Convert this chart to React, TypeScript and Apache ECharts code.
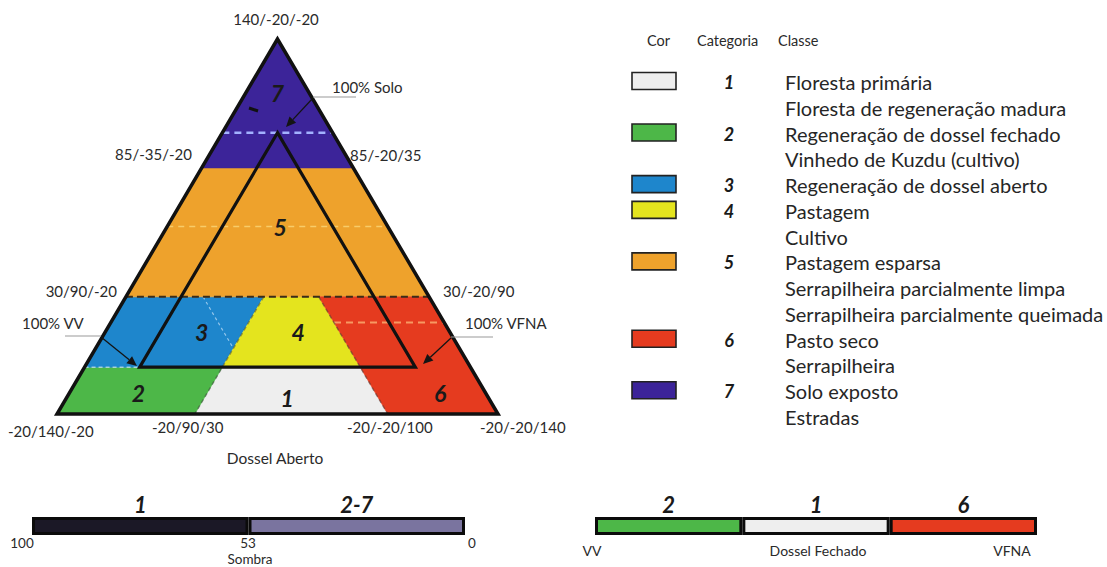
import React, { useEffect, useRef } from "react";
import * as echarts from "echarts";

const FONT = "Lato, 'Open Sans', sans-serif";

// Ternary coordinates are [Solo, VV, VFNA]; each runs from -20 to 140
const ternaryMin = -20;
const ternaryMax = 140;

const categories = ["1", "2", "3", "4", "5", "6", "7"];
const categoryColors = ["#eeeeee", "#4db748", "#1e86cc", "#e4e41e", "#eea22c", "#e53b1f", "#3c2499"];

// polygon of each category region in ternary coordinates
const regionVertices: number[][][] = [
  [[0, 70, 30], [-20, 90, 30], [-20, 20, 100], [0, 20, 80]],
  [[0, 120, -20], [-20, 140, -20], [-20, 90, 30], [0, 70, 30]],
  [[30, 90, -20], [0, 120, -20], [0, 70, 30], [30, 40, 30]],
  [[30, 40, 30], [0, 70, 30], [0, 20, 80], [30, 20, 50]],
  [[85, 35, -20], [30, 90, -20], [30, -20, 90], [85, -20, 35]],
  [[30, 20, 50], [-20, 20, 100], [-20, -20, 140], [30, -20, 90]],
  [[140, -20, -20], [85, 35, -20], [85, -20, 35]],
];
const regionLabelPos: number[][] = [
  [-13, 53, 60], [-11, 106, 5], [15, 70, 15], [15, 35, 50], [60, 19, 21], [-11, -3.5, 114.5], [117, -8.5, -8.5],
];
const outerTriangle: number[][] = [[140, -20, -20], [-20, 140, -20], [-20, -20, 140]];
const innerTriangle: number[][] = [[100, 0, 0], [0, 100, 0], [0, 0, 100]];

const boundaryLines: number[][][] = [
  [[30, 90, -20], [30, -20, 90]],
  [[30, 40, 30], [-20, 90, 30]],
  [[30, 20, 50], [-20, 20, 100]],
  [[0, 120, -20], [0, 20, 80]],
];
const textureLines: number[][][] = [
  [[100, 20, -20], [100, -20, 20]],
  [[60, 60, -20], [60, -20, 60]],
  [[19, 20, 61], [19, -20, 101]],
  [[30, 62, 8], [8, 62, 30]],
];

const vertexLabelTexts = [
  "140/-20/-20", "100% Solo", "85/-35/-20", "85/-20/35", "30/90/-20", "30/-20/90",
  "100% VV", "100% VFNA", "-20/140/-20", "-20/90/30", "-20/-20/100", "-20/-20/140",
];
const axisTitle = "Dossel Aberto";

const legendHeaders = ["Cor", "Categoria", "Classe"];
const legendClasses = [
  "Floresta primária",
  "Floresta de regeneração madura",
  "Regeneração de dossel fechado",
  "Vinhedo de Kuzdu (cultivo)",
  "Regeneração de dossel aberto",
  "Pastagem",
  "Cultivo",
  "Pastagem esparsa",
  "Serrapilheira parcialmente limpa",
  "Serrapilheira parcialmente queimada",
  "Pasto seco",
  "Serrapilheira",
  "Solo exposto",
  "Estradas",
];
const categoryFirstLine = [0, 2, 4, 5, 7, 10, 12];

const sombraCategories = ["1", "2-7"];
const sombraValues = [1, 1];
const sombraColors = ["#1b1826", "#7a749f"];
const sombraTicks = ["100", "53", "0"];
const sombraTitle = "Sombra";

const dosselCategories = ["2", "1", "6"];
const dosselValues = [1, 1, 1];
const dosselEnds = ["VV", "Dossel Fechado", "VFNA"];

const span = ternaryMax - ternaryMin;
function toXY(t: number[]): number[] {
  const a = (t[0] - ternaryMin) / span;
  const c = (t[2] - ternaryMin) / span;
  return [c + a * 0.5, a];
}

function txt(text: string, x: number, y: number, size: number, align = "left", extra: any = {}) {
  return {
    type: "text",
    x,
    y,
    z: 100,
    silent: true,
    style: {
      text,
      fill: extra.fill || "#2a2a2a",
      font: `${extra.style || "normal"} ${extra.weight || "normal"} ${size}px ${FONT}`,
      align,
      textAlign: align,
      verticalAlign: "middle",
      textVerticalAlign: "middle",
    },
  };
}

function arrow(x1: number, y1: number, x2: number, y2: number, color: string) {
  const dx = x2 - x1, dy = y2 - y1;
  const L = Math.hypot(dx, dy);
  const ux = dx / L, uy = dy / L;
  const nx = -uy, ny = ux;
  const hl = 10, hw = 4.5;
  const bx = x2 - ux * hl, by = y2 - uy * hl;
  return [
    { type: "line", z: 100, silent: true, shape: { x1, y1, x2: bx, y2: by }, style: { stroke: color, lineWidth: 1.3 } },
    {
      type: "polygon", z: 100, silent: true,
      shape: { points: [[x2, y2], [bx + nx * hw, by + ny * hw], [bx - nx * hw, by - ny * hw]] },
      style: { fill: color },
    },
  ];
}

function leader(x1: number, x2: number, y: number) {
  return { type: "line", z: 100, silent: true, shape: { x1, y1: y, x2, y2: y }, style: { stroke: "#9a9a9a", lineWidth: 1.2 } };
}

export default function App() {
  const ref = useRef<HTMLDivElement>(null);
  useEffect(() => {
    if (!ref.current) return;
    const chart = echarts.init(ref.current, null, { renderer: "svg" });

    const lineItem = (pts: number[][], stroke: string, lineWidth: number, dash: number[] | null) => (params: any, api: any) => ({
      type: "polyline",
      shape: { points: pts.map((t) => api.coord(toXY(t))) },
      style: { stroke, lineWidth, lineDash: dash || undefined, fill: null },
    });

    const boundaryStyles = [
      ["#3a2c1a", 2, [7, 4]],
      ["rgba(50,50,50,0.45)", 1.5, [4, 3]],
      ["rgba(50,50,50,0.45)", 1.5, [4, 3]],
      ["rgba(255,255,255,0.55)", 1.5, [4, 3]],
    ];
    const textureStyles = [
      ["#a3b2ff", 2.5, [7, 5]],
      ["rgba(250,215,120,0.8)", 1.5, [6, 5]],
      ["rgba(250,170,110,0.85)", 2, [7, 5]],
      ["rgba(225,240,255,0.6)", 1.2, [3, 3]],
    ];

    const graphic: any[] = [];
    // vertex labels
    const vl: [number, number, string][] = [
      [276, 19, "center"], [332, 87, "left"], [192, 154, "right"], [350, 155, "left"],
      [117, 291, "right"], [443, 291, "left"], [22, 323, "left"], [465, 323, "left"],
      [8, 431, "left"], [152, 427, "left"], [347, 427, "left"], [480, 427, "left"],
    ];
    vertexLabelTexts.forEach((t, i) => graphic.push(txt(t, vl[i][0], vl[i][1], 15, vl[i][2])));
    graphic.push(txt(axisTitle, 275, 458, 15.5, "center"));
    graphic.push(leader(313, 356, 97), leader(65, 101, 336), leader(451, 493, 337));
    graphic.push(...arrow(313, 98, 286, 127, "#141414"));
    graphic.push(...arrow(101, 337, 137, 366, "#141414"));
    graphic.push(...arrow(451, 338, 423, 364, "#141414"));
    graphic.push({ type: "line", z: 100, silent: true, shape: { x1: 249, y1: 108, x2: 258, y2: 111 }, style: { stroke: "#111", lineWidth: 3 } });

    // legend
    const hx = [647, 697, 778];
    legendHeaders.forEach((h, i) => graphic.push(txt(h, hx[i], 40, 14.5, "left")));
    const lineY = (i: number) => 82 + i * 25.77;
    legendClasses.forEach((c, i) => graphic.push(txt(c, 785, lineY(i), 20, "left", { fill: "#262626" })));
    categories.forEach((c, i) => {
      const y = lineY(categoryFirstLine[i]) - 1;
      graphic.push({
        type: "rect", z: 100, silent: true,
        shape: { x: 632, y: y - 8.5, width: 44, height: 17 },
        style: { fill: categoryColors[i], stroke: "#222", lineWidth: 1.6 },
      });
      graphic.push(txt(c, 729, lineY(categoryFirstLine[i]), 18, "center", { style: "italic", weight: "bold", fill: "#1a1a1a" }));
    });

    // bottom bars texts
    const stx = [22, 248, 472];
    sombraTicks.forEach((t, i) => graphic.push(txt(t, stx[i], 543, 13.5, "center")));
    graphic.push(txt(sombraTitle, 250, 559, 13.5, "center"));
    const dex = [592, 818, 1012];
    dosselEnds.forEach((t, i) => graphic.push(txt(t, dex[i], 550, 14, "center")));

    const barLabel = {
      show: true,
      position: "top",
      distance: 2,
      formatter: (p: any) => p.name,
      fontFamily: FONT,
      fontSize: 22,
      fontWeight: "bold",
      fontStyle: "italic",
      color: "#1a1a1a",
    };

    const option: any = {
      animation: false,
      backgroundColor: "#ffffff",
      grid: [
        { left: 57, top: 39, width: 441, height: 375 },
        { left: 32, top: 517, width: 433, height: 18 },
        { left: 595, top: 517, width: 442, height: 18 },
      ],
      xAxis: [
        { gridIndex: 0, type: "value", min: 0, max: 1, show: false },
        { gridIndex: 1, type: "category", data: sombraCategories, show: false },
        { gridIndex: 2, type: "category", data: dosselCategories, show: false },
      ],
      yAxis: [
        { gridIndex: 0, type: "value", min: 0, max: 1, show: false },
        { gridIndex: 1, type: "value", min: 0, max: 1, show: false },
        { gridIndex: 2, type: "value", min: 0, max: 1, show: false },
      ],
      graphic,
      series: [
        {
          type: "custom",
          coordinateSystem: "cartesian2d",
          xAxisIndex: 0, yAxisIndex: 0, silent: true,
          data: regionVertices.map((v, i) => [toXY(regionLabelPos[i])[0], toXY(regionLabelPos[i])[1], i]),
          renderItem: (params: any, api: any) => {
            const i = params.dataIndex;
            return {
              type: "polygon",
              shape: { points: regionVertices[i].map((t) => api.coord(toXY(t))) },
              style: { fill: categoryColors[i], stroke: categoryColors[i], lineWidth: 0.6 },
            };
          },
        },
        ...textureLines.map((pts, i) => ({
          type: "custom", coordinateSystem: "cartesian2d", xAxisIndex: 0, yAxisIndex: 0, silent: true,
          data: [[0.5, 0.5]],
          renderItem: lineItem(pts, textureStyles[i][0] as string, textureStyles[i][1] as number, textureStyles[i][2] as number[]),
        })),
        ...boundaryLines.map((pts, i) => ({
          type: "custom", coordinateSystem: "cartesian2d", xAxisIndex: 0, yAxisIndex: 0, silent: true,
          data: [[0.5, 0.5]],
          renderItem: lineItem(pts, boundaryStyles[i][0] as string, boundaryStyles[i][1] as number, boundaryStyles[i][2] as number[]),
        })),
        ...[outerTriangle, innerTriangle].map((tri, k) => ({
          type: "custom", coordinateSystem: "cartesian2d", xAxisIndex: 0, yAxisIndex: 0, silent: true,
          data: [[0.5, 0.5]],
          renderItem: (params: any, api: any) => ({
            type: "polygon",
            shape: { points: tri.map((t) => api.coord(toXY(t))) },
            style: { fill: null, stroke: "#111111", lineWidth: k === 0 ? 3.5 : 3.2, lineJoin: "miter" },
          }),
        })),
        {
          type: "custom", coordinateSystem: "cartesian2d", xAxisIndex: 0, yAxisIndex: 0, silent: true,
          data: regionLabelPos.map((p, i) => [toXY(p)[0], toXY(p)[1], i]),
          renderItem: (params: any, api: any) => {
            const pt = api.coord([api.value(0), api.value(1)]);
            return {
              type: "text",
              x: pt[0], y: pt[1],
              style: {
                text: categories[params.dataIndex],
                fill: "#1a1a1a",
                font: `italic bold 23px ${FONT}`,
                align: "center", textAlign: "center",
                verticalAlign: "middle", textVerticalAlign: "middle",
              },
            };
          },
        },
        {
          type: "bar", xAxisIndex: 1, yAxisIndex: 1, silent: true,
          barWidth: "100%",
          data: sombraValues.map((v, i) => ({ value: v, itemStyle: { color: sombraColors[i] } })),
          itemStyle: { borderColor: "#0b0b0b", borderWidth: 3 },
          label: barLabel,
        },
        {
          type: "bar", xAxisIndex: 2, yAxisIndex: 2, silent: true,
          barWidth: "100%",
          data: dosselValues.map((v, i) => ({
            value: v,
            itemStyle: { color: categoryColors[categories.indexOf(dosselCategories[i])] },
          })),
          itemStyle: { borderColor: "#0b0b0b", borderWidth: 3 },
          label: barLabel,
        },
      ],
    };
    chart.setOption(option);
    return () => chart.dispose();
  }, []);

  return (
    <div
      ref={ref}
      style={{ position: "absolute", left: 0, top: 0, width: 1107, height: 567, background: "#fff" }}
    />
  );
}
